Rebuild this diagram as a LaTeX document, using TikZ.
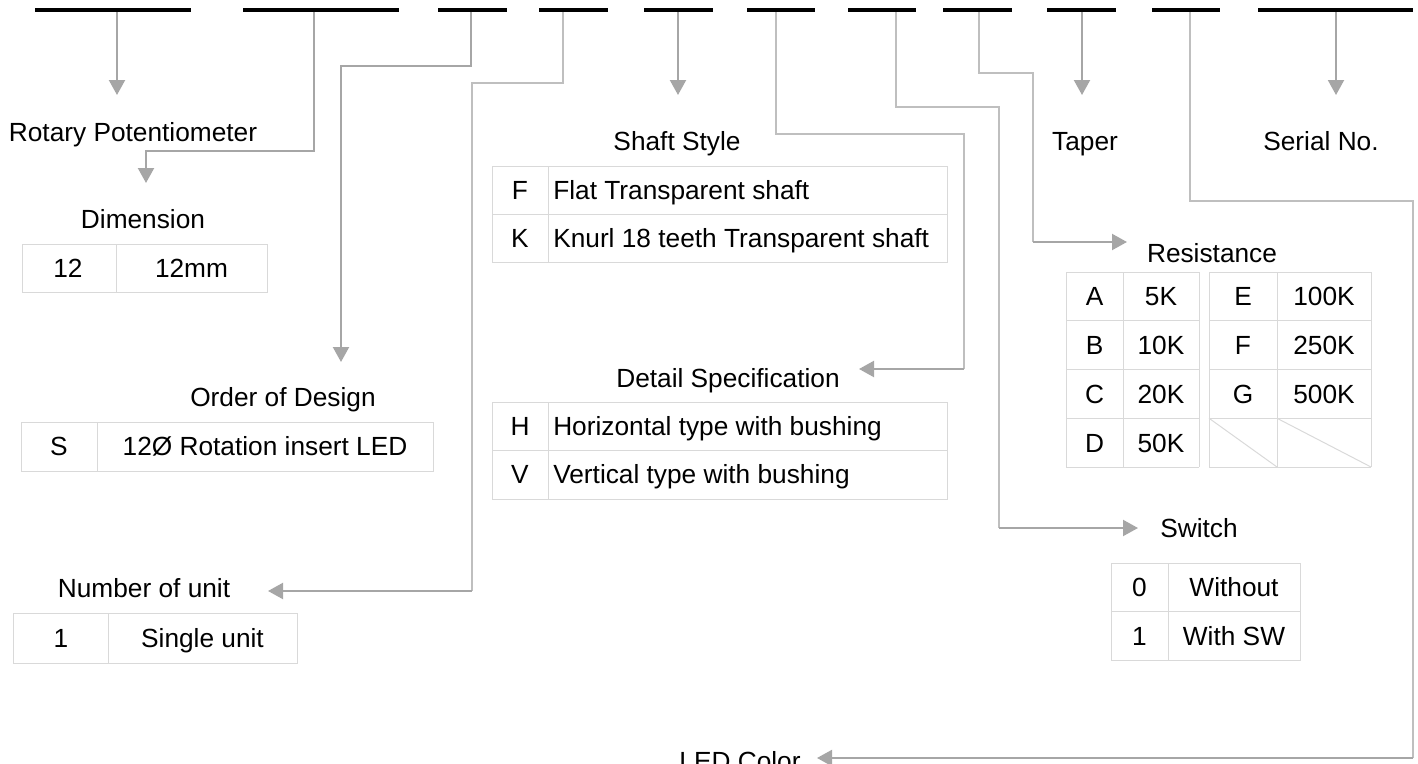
\documentclass[tikz,border=0pt]{standalone}
\usepackage{fontspec}
\setmainfont{Liberation Sans}
\usetikzlibrary{arrows.meta}
\definecolor{arrowgray}{HTML}{A6A6A6}
\definecolor{thingray}{HTML}{BFBFBF}
\definecolor{cellgray}{HTML}{D9D9D9}
\begin{document}
\begin{tikzpicture}[x=0.75pt,y=-0.75pt,
  bar/.style={line width=3pt, black},
  conn/.style={line width=1.6pt, arrowgray},
  route/.style={line width=0.8pt, thingray},
  tip/.style={-{Triangle[length=11.25pt,width=12pt]}},
  tbl/.style={line width=0.75pt, cellgray},
  lbl/.style={inner sep=0pt, text height=14.1pt, text depth=0pt, font=\fontsize{19.7}{23}\selectfont},
]
\useasboundingbox (0,0) rectangle (1418,764);

% ---------- connectors ----------
% bar 1 -> Rotary Potentiometer
\coordinate (s1) at (117,10); \coordinate (t1) at (117,95);
\draw[conn,tip] (s1) -- (t1);
% bar 2 -> Dimension
\coordinate (s2) at (314,10); \coordinate (k2a) at (314,151); \coordinate (k2b) at (146,151); \coordinate (t2) at (146,183);
\draw[conn,tip] (s2) -- (k2a) -- (k2b) -- (t2);
% bar 3 -> Order of Design
\coordinate (s3) at (471,10); \coordinate (k3a) at (471,66); \coordinate (k3b) at (341,66); \coordinate (t3) at (341,362);
\draw[conn,tip] (s3) -- (k3a) -- (k3b) -- (t3);
% bar 4 -> Number of unit
\coordinate (s4) at (563,10); \coordinate (k4a) at (563,83); \coordinate (k4b) at (472,83); \coordinate (k4c) at (472,591); \coordinate (t4) at (268,591);
\draw[route] (s4) -- (k4a) -- (k4b) -- (k4c);
\draw[conn,tip] (k4c) -- (t4);
% bar 5 -> Shaft Style
\coordinate (s5) at (678,10); \coordinate (t5) at (678,95);
\draw[conn,tip] (s5) -- (t5);
% bar 6 -> Detail Specification
\coordinate (s6) at (776,10); \coordinate (k6a) at (776,134); \coordinate (k6b) at (964,134); \coordinate (k6c) at (964,369); \coordinate (t6) at (859,369);
\draw[route] (s6) -- (k6a) -- (k6b) -- (k6c);
\draw[conn,tip] (k6c) -- (t6);
% bar 7 -> Switch
\coordinate (s7) at (896,10); \coordinate (k7a) at (896,107); \coordinate (k7b) at (999,107); \coordinate (k7c) at (999,528); \coordinate (t7) at (1138,528);
\draw[route] (s7) -- (k7a) -- (k7b) -- (k7c);
\draw[conn,tip] (k7c) -- (t7);
% bar 8 -> Resistance
\coordinate (s8) at (979,10); \coordinate (k8a) at (979,73); \coordinate (k8b) at (1033,73); \coordinate (k8c) at (1033,242); \coordinate (t8) at (1127,242);
\draw[route] (s8) -- (k8a) -- (k8b) -- (k8c);
\draw[conn,tip] (k8c) -- (t8);
% bar 9 -> Taper
\coordinate (s9) at (1082,10); \coordinate (t9) at (1082,95);
\draw[conn,tip] (s9) -- (t9);
% bar 10 -> LED Color
\coordinate (s10) at (1190,10); \coordinate (k10a) at (1190,201); \coordinate (k10b) at (1413,201); \coordinate (k10c) at (1413,758); \coordinate (t10) at (817,758);
\draw[route] (s10) -- (k10a) -- (k10b) -- (k10c);
\draw[conn,tip] (k10c) -- (t10);
% bar 11 -> Serial No.
\coordinate (s11) at (1336,10); \coordinate (t11) at (1336,95);
\draw[conn,tip] (s11) -- (t11);

% ---------- code bars ----------
\draw[bar] (35,9.5) -- (191,9.5);
\draw[bar] (243,9.5) -- (399,9.5);
\draw[bar] (438,9.5) -- (507,9.5);
\draw[bar] (539,9.5) -- (608,9.5);
\draw[bar] (644,9.5) -- (713,9.5);
\draw[bar] (747,9.5) -- (815,9.5);
\draw[bar] (848,9.5) -- (916,9.5);
\draw[bar] (943,9.5) -- (1012,9.5);
\draw[bar] (1047,9.5) -- (1116,9.5);
\draw[bar] (1152,9.5) -- (1220,9.5);
\draw[bar] (1258,9.5) -- (1413,9.5);

% ---------- labels ----------
\node[lbl] (rp) at (133,132) {Rotary Potentiometer};
\node[lbl] (dim) at (143,219) {Dimension};
\node[lbl] (ood) at (283,397) {Order of Design};
\node[lbl] (nou) at (144,588) {Number of unit};
\node[lbl] (ss) at (677,141) {Shaft Style};
\node[lbl] (ds) at (728,378) {Detail Specification};
\node[lbl] (tp) at (1085,141) {Taper};
\node[lbl] (sn) at (1321,141) {Serial No.};
\node[lbl] (rs) at (1212,253) {Resistance};
\node[lbl] (sw) at (1199,528) {Switch};
\node[lbl] (led) at (740,761) {LED Color};

% ---------- Dimension table ----------
\draw[tbl] (22,244) rectangle (267,292);
\draw[tbl] (116,244) -- (116,292);
\node[lbl] (d1) at (68,268) {12};
\node[lbl] (d2) at (191.5,268) {12mm};

% ---------- Order of Design table ----------
\draw[tbl] (21,422) rectangle (433,471);
\draw[tbl] (97,422) -- (97,471);
\node[lbl] (o1) at (59,446.5) {S};
\node[lbl] (o2) at (265,446.5) {12Ø Rotation insert LED};

% ---------- Number of unit table ----------
\draw[tbl] (13,613) rectangle (297,663);
\draw[tbl] (108,613) -- (108,663);
\node[lbl] (n1) at (61,638) {1};
\node[lbl] (n2) at (202.5,638) {Single unit};

% ---------- Shaft Style table ----------
\draw[tbl] (492,166) rectangle (947,262);
\draw[tbl] (492,214) -- (947,214);
\draw[tbl] (548,166) -- (548,262);
\node[lbl] (sf) at (520,190) {F};
\node[lbl,anchor=west] (sfv) at (553,190) {Flat Transparent shaft};
\node[lbl] (sk) at (520,238) {K};
\node[lbl,anchor=west] (skv) at (553,238) {Knurl 18 teeth Transparent shaft};

% ---------- Detail Specification table ----------
\draw[tbl] (492,402) rectangle (947,499);
\draw[tbl] (492,450.5) -- (947,450.5);
\draw[tbl] (548,402) -- (548,499);
\node[lbl] (dh) at (520,426) {H};
\node[lbl,anchor=west] (dhv) at (553,426) {Horizontal type with bushing};
\node[lbl] (dv) at (520,474.5) {V};
\node[lbl,anchor=west] (dvv) at (553,474.5) {Vertical type with bushing};

% ---------- Resistance tables ----------
\foreach \y in {272,320.75,369.5,418.25,467} {
  \draw[tbl] (1066,\y) -- (1199,\y);
  \draw[tbl] (1209,\y) -- (1371,\y);
}
\foreach \x in {1066,1123,1199,1209,1277,1371} {
  \draw[tbl] (\x,272) -- (\x,467);
}
\draw[tbl] (1209,418.25) -- (1277,467);
\draw[tbl] (1277,418.25) -- (1371,467);
\node[lbl] (ra) at (1094.5,296.4) {A};
\node[lbl] (rav) at (1161,296.4) {5K};
\node[lbl] (rb) at (1094.5,345.1) {B};
\node[lbl] (rbv) at (1161,345.1) {10K};
\node[lbl] (rc) at (1094.5,393.9) {C};
\node[lbl] (rcv) at (1161,393.9) {20K};
\node[lbl] (rd) at (1094.5,442.6) {D};
\node[lbl] (rdv) at (1161,442.6) {50K};
\node[lbl] (re) at (1243,296.4) {E};
\node[lbl] (rev) at (1324,296.4) {100K};
\node[lbl] (rf) at (1243,345.1) {F};
\node[lbl] (rfv) at (1324,345.1) {250K};
\node[lbl] (rg) at (1243,393.9) {G};
\node[lbl] (rgv) at (1324,393.9) {500K};

% ---------- Switch table ----------
\draw[tbl] (1111,563) rectangle (1300,660);
\draw[tbl] (1111,611.5) -- (1300,611.5);
\draw[tbl] (1168,563) -- (1168,660);
\node[lbl] (w0) at (1139.5,587.3) {0};
\node[lbl] (w0v) at (1234,587.3) {Without};
\node[lbl] (w1) at (1139.5,635.8) {1};
\node[lbl] (w1v) at (1234,635.8) {With SW};
\end{tikzpicture}
\end{document}
